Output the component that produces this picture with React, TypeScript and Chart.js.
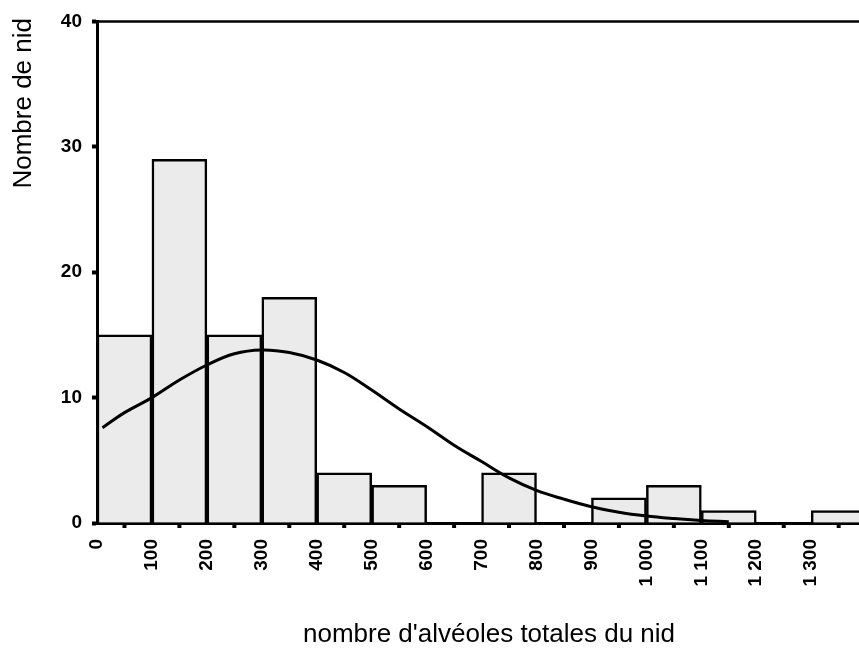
import React, { useEffect, useRef } from "react";
import { Chart, registerables } from "chart.js";

Chart.register(...registerables);

const binCenters = [50, 150, 250, 350, 450, 550, 650, 750, 850, 950, 1050, 1150, 1250, 1350];
const binCounts = [15, 29, 15, 18, 4, 3, 0, 4, 0, 2, 3, 1, 0, 1];
const xTickValues = [0, 100, 200, 300, 400, 500, 600, 700, 800, 900, 1000, 1100, 1200, 1300];
const curveX = [10, 50, 100, 150, 200, 250, 300, 350, 400, 450, 500, 550, 600, 650, 700, 750, 800, 850, 900, 950, 1000, 1050, 1100, 1150];
const curveY = [7.6, 8.8, 10.0, 11.4, 12.6, 13.5, 13.8, 13.6, 13.0, 12.0, 10.6, 9.1, 7.7, 6.2, 4.9, 3.6, 2.6, 1.9, 1.3, 0.85, 0.55, 0.35, 0.2, 0.1];
const yTitle = "Nombre de nid";
const xTitle = "nombre d'alvéoles totales du nid";

const FONT = "'Liberation Sans', Arial, sans-serif";

function fmt(v: number): string {
  return String(v).replace(/\B(?=(\d{3})+(?!\d))/g, " ");
}

const decor = {
  id: "decor",
  afterDraw(chart: any) {
    const { ctx, chartArea } = chart;
    const xs = chart.scales.x;
    ctx.save();
    ctx.strokeStyle = "#000";
    ctx.lineWidth = 2.5;
    ctx.beginPath();
    ctx.moveTo(chartArea.left, chartArea.top);
    ctx.lineTo(chartArea.right, chartArea.top);
    ctx.stroke();
    ctx.fillStyle = "#000";
    for (const c of binCenters) {
      const px = xs.getPixelForValue(c);
      ctx.fillRect(px - 2, chartArea.bottom, 4, 5);
    }
    ctx.font = `26px ${FONT}`;
    ctx.textBaseline = "middle";
    ctx.textAlign = "center";
    ctx.fillText(xTitle, 489, 635);
    ctx.translate(24, 18);
    ctx.rotate(-Math.PI / 2);
    ctx.textAlign = "right";
    ctx.fillText(yTitle, 0, 0);
    ctx.restore();
  },
};

export default function App() {
  const ref = useRef<HTMLCanvasElement>(null);
  useEffect(() => {
    document.body.style.margin = "0";
    const canvas = ref.current;
    if (!canvas) return;
    const chart = new Chart(canvas, {
      type: "bar",
      data: {
        datasets: [
          {
            type: "line",
            data: curveX.map((x, i) => ({ x, y: curveY[i] })),
            borderColor: "#000",
            borderWidth: 3,
            pointRadius: 0,
            tension: 0.4,
            fill: false,
            order: 0,
          } as any,
          {
            type: "bar",
            data: binCenters.map((x, i) => ({ x, y: binCounts[i] })),
            backgroundColor: "#ebebeb",
            borderColor: "#000",
            borderWidth: 2.5,
            barPercentage: 1,
            categoryPercentage: 1,
            order: 1,
          } as any,
        ],
      },
      options: {
        responsive: false,
        animation: false,
        layout: { padding: { top: 20, right: 0, left: 0, bottom: 0 } },
        plugins: { legend: { display: false }, tooltip: { enabled: false } },
        scales: {
          x: {
            type: "linear",
            min: 0,
            max: 1387,
            offset: false,
            grid: { display: false, drawTicks: false },
            border: { display: true, color: "#000", width: 3 },
            afterBuildTicks: (scale: any) => {
              scale.ticks = xTickValues.map((v) => ({ value: v }));
            },
            afterFit: (scale: any) => {
              scale.height = 132;
            },
            ticks: {
              autoSkip: false,
              minRotation: 90,
              maxRotation: 90,
              padding: 16,
              color: "#000",
              font: { family: FONT, size: 19, weight: "bold" },
              callback: (v: any) => fmt(Number(v)),
            },
          },
          y: {
            min: 0,
            max: 40,
            grid: {
              display: true,
              drawOnChartArea: false,
              drawTicks: true,
              tickLength: 5,
              tickWidth: 4,
              color: "#000",
            },
            border: { display: true, color: "#000", width: 3 },
            afterFit: (scale: any) => {
              scale.width = 97;
            },
            ticks: {
              stepSize: 10,
              padding: 10,
              color: "#000",
              font: { family: FONT, size: 19, weight: "bold" },
            },
          },
        },
      },
      plugins: [decor],
    } as any);
    return () => chart.destroy();
  }, []);
  return <canvas ref={ref} width={859} height={655} style={{ display: "block", width: 859, height: 655 }} />;
}
